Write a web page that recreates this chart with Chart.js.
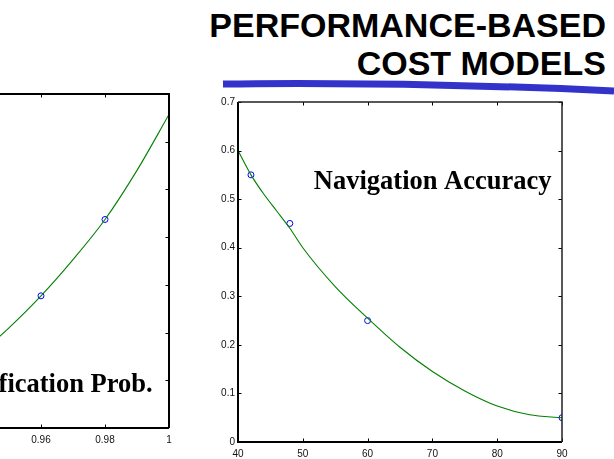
<!DOCTYPE html>
<html>
<head>
<meta charset="utf-8">
<script src="https://cdn.jsdelivr.net/npm/chart.js@4"></script>
<style>
  html, body { margin: 0; padding: 0; background: #fff; }
  body { width: 614px; height: 459px; position: relative; overflow: hidden; }
  #header { position: absolute; left: 0; top: 0; }
  #leftWrap { position: absolute; left: -200px; top: 84px; width: 380px; height: 375px; }
  #rightWrap { position: absolute; left: 200px; top: 90px; width: 380px; height: 369px; }
</style>
</head>
<body>
<svg id="header" width="614" height="100" xmlns="http://www.w3.org/2000/svg">
  <path d="M223,84 Q418,81.8 614,91" stroke="#3333cc" stroke-width="7" fill="none"/>
  <text x="606" y="36.5" text-anchor="end" font-family="Liberation Sans, Arial, sans-serif" font-weight="bold" font-size="34" fill="#000">PERFORMANCE-BASED</text>
  <text x="606" y="75" text-anchor="end" font-family="Liberation Sans, Arial, sans-serif" font-weight="bold" font-size="34" fill="#000">COST MODELS</text>
</svg>
<div id="leftWrap"><canvas id="leftChart" width="380" height="375"></canvas></div>
<div id="rightWrap"><canvas id="rightChart" width="380" height="369"></canvas></div>
<script>
// Classification probability panel (partly outside the view)
const clsCurveX = [0.94, 0.95, 0.96, 0.97, 0.98, 0.99, 1.00];
const clsCurveY = [0.15, 0.21, 0.277, 0.353, 0.437, 0.54, 0.657];
const clsPointX = [0.96, 0.98];
const clsPointY = [0.277, 0.437];
const clsTickX = [0.90, 0.92, 0.94, 0.96, 0.98, 1.00];
const clsTickXLabels = ['0.9', '0.92', '0.94', '0.96', '0.98', '1'];
const clsTickY = [0, 0.1, 0.2, 0.3, 0.4, 0.5, 0.6, 0.7];
const clsTickYLabels = ['0', '0.1', '0.2', '0.3', '0.4', '0.5', '0.6', '0.7'];

// Navigation accuracy panel
const navCurveX = [40, 42, 44, 46, 48, 50, 55, 60, 65, 70, 75, 80, 85, 90];
const navCurveY = [0.60, 0.55, 0.51, 0.475, 0.44, 0.40, 0.32, 0.255, 0.195, 0.145, 0.105, 0.074, 0.056, 0.05];
const navPointX = [42, 48, 60, 90];
const navPointY = [0.55, 0.45, 0.25, 0.05];
const navTickX = [40, 50, 60, 70, 80, 90];
const navTickXLabels = ['40', '50', '60', '70', '80', '90'];
const navTickY = [0, 0.1, 0.2, 0.3, 0.4, 0.5, 0.6, 0.7];
const navTickYLabels = ['0', '0.1', '0.2', '0.3', '0.4', '0.5', '0.6', '0.7'];

const zip = (xs, ys) => xs.map((x, i) => ({ x: x, y: ys[i] }));

// Box frame with inward tick marks on all four sides
const framePlugin = {
  id: 'frame',
  afterDatasetsDraw(chart, args, opts) {
    const ctx = chart.ctx;
    const a = chart.chartArea;
    const xs = chart.scales.x, ys = chart.scales.y;
    const len = 3.5;
    ctx.save();
    ctx.strokeStyle = '#000';
    ctx.lineWidth = 1;
    xs.ticks.forEach(t => {
      const px = Math.round(xs.getPixelForValue(t.value)) + 0.5;
      ctx.beginPath();
      ctx.moveTo(px, a.bottom); ctx.lineTo(px, a.bottom - len);
      ctx.moveTo(px, a.top); ctx.lineTo(px, a.top + len);
      ctx.stroke();
    });
    ys.ticks.forEach(t => {
      const py = Math.round(ys.getPixelForValue(t.value)) + 0.5;
      ctx.beginPath();
      ctx.moveTo(a.left, py); ctx.lineTo(a.left + len, py);
      ctx.moveTo(a.right, py); ctx.lineTo(a.right - len, py);
      ctx.stroke();
    });
    ctx.lineWidth = opts.heavy;
    ctx.beginPath();
    ctx.moveTo(a.left, a.top); ctx.lineTo(a.left, a.bottom); ctx.lineTo(a.right, a.bottom);
    ctx.stroke();
    ctx.lineWidth = opts.light;
    ctx.strokeStyle = opts.lightColor;
    ctx.beginPath();
    ctx.moveTo(a.left, a.top); ctx.lineTo(a.right, a.top); ctx.lineTo(a.right, a.bottom);
    ctx.stroke();
    ctx.restore();
  }
};

// Panel caption placed in data coordinates
const captionPlugin = {
  id: 'caption',
  afterDraw(chart, args, opts) {
    const ctx = chart.ctx;
    ctx.save();
    ctx.font = 'bold 26.5px "Liberation Serif", "Times New Roman", serif';
    ctx.fillStyle = '#000';
    ctx.textAlign = opts.align;
    ctx.textBaseline = 'alphabetic';
    ctx.fillText(opts.text,
      chart.scales.x.getPixelForValue(opts.x),
      chart.scales.y.getPixelForValue(opts.y));
    ctx.restore();
  }
};

function makePanel(canvasId, cfg) {
  const tickFont = { family: '"Liberation Sans", Arial, sans-serif', size: 10 };
  return new Chart(document.getElementById(canvasId), {
    type: 'scatter',
    data: {
      datasets: [
        {
          type: 'line',
          data: zip(cfg.curveX, cfg.curveY),
          borderColor: '#008000',
          borderWidth: 1.1,
          pointRadius: 0,
          fill: false,
          tension: 0.4,
          cubicInterpolationMode: 'monotone'
        },
        {
          data: zip(cfg.pointX, cfg.pointY),
          pointStyle: 'circle',
          pointRadius: 3,
          borderColor: '#0000ff',
          backgroundColor: 'rgba(0,0,0,0)',
          borderWidth: 1,
          clip: { left: 5, top: 5, right: 0, bottom: 5 }
        }
      ]
    },
    options: {
      responsive: false,
      animation: false,
      devicePixelRatio: 1,
      layout: { padding: cfg.padding },
      plugins: {
        legend: { display: false },
        tooltip: { enabled: false },
        frame: cfg.frame,
        caption: cfg.caption
      },
      scales: {
        x: {
          type: 'linear',
          min: cfg.tickX[0],
          max: cfg.tickX[cfg.tickX.length - 1],
          afterBuildTicks: s => { s.ticks = cfg.tickX.map(v => ({ value: v })); },
          afterFit: s => { s.height = 17; },
          grid: { display: false, drawTicks: false },
          border: { display: false },
          ticks: {
            font: tickFont, color: '#111', padding: 6, maxRotation: 0, autoSkip: false,
            callback: (v, i) => cfg.tickXLabels[i]
          }
        },
        y: {
          type: 'linear',
          min: cfg.tickY[0],
          max: cfg.tickY[cfg.tickY.length - 1],
          afterBuildTicks: s => { s.ticks = cfg.tickY.map(v => ({ value: v })); },
          afterFit: s => { s.width = cfg.yWidth; },
          grid: { display: false, drawTicks: false },
          border: { display: false },
          ticks: {
            font: tickFont, color: '#111', padding: 3, autoSkip: false,
            callback: (v, i) => cfg.tickYLabels[i]
          }
        }
      }
    },
    plugins: [framePlugin, captionPlugin]
  });
}

makePanel('leftChart', {
  curveX: clsCurveX, curveY: clsCurveY, pointX: clsPointX, pointY: clsPointY,
  tickX: clsTickX, tickXLabels: clsTickXLabels, tickY: clsTickY, tickYLabels: clsTickYLabels,
  padding: { left: 0, right: 11, top: 10, bottom: 14 },
  yWidth: 49,
  frame: { heavy: 2, light: 2, lightColor: '#000' },
  caption: { text: 'Classification Prob.', x: 0.9949, y: 0.076, align: 'right' }
});

makePanel('rightChart', {
  curveX: navCurveX, curveY: navCurveY, pointX: navPointX, pointY: navPointY,
  tickX: navTickX, tickXLabels: navTickXLabels, tickY: navTickY, tickYLabels: navTickYLabels,
  padding: { left: 0, right: 18, top: 12, bottom: 0 },
  yWidth: 38,
  frame: { heavy: 2, light: 1.5, lightColor: '#222' },
  caption: { text: 'Navigation Accuracy', x: 51.7, y: 0.52, align: 'left' }
});
</script>
</body>
</html>
